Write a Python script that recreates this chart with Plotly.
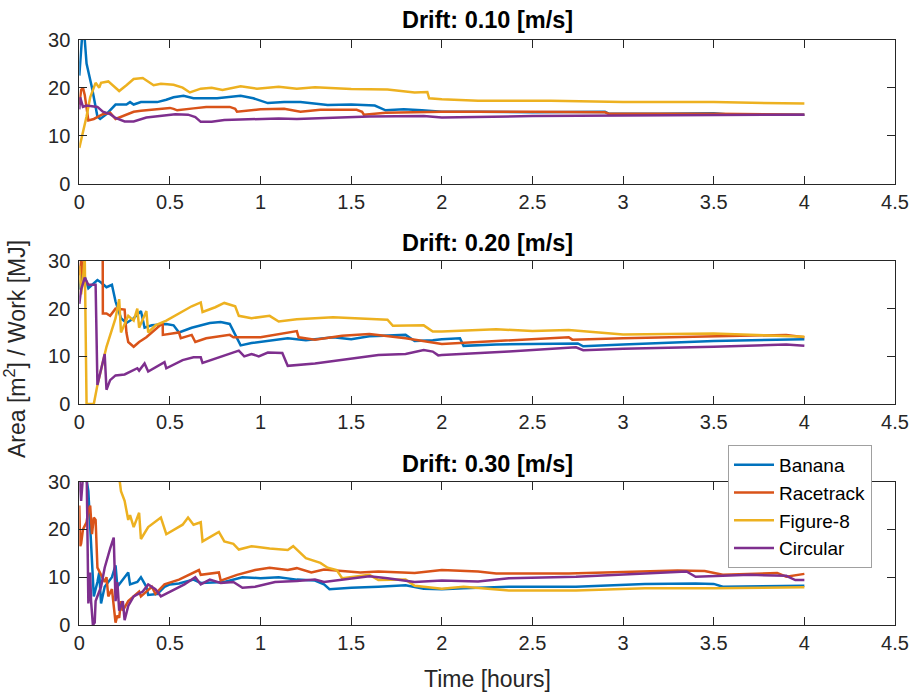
import plotly.graph_objects as go

# ---------------- data ----------------
series_names = ["Banana", "Racetrack", "Figure-8", "Circular"]
series_colors = ["#0072BD", "#D95319", "#EDB120", "#7E2F8E"]
titles = ["Drift: 0.10 [m/s]", "Drift: 0.20 [m/s]", "Drift: 0.30 [m/s]"]
x_ticks = [0, 0.5, 1, 1.5, 2, 2.5, 3, 3.5, 4, 4.5]
x_tick_labels = ["0", "0.5", "1", "1.5", "2", "2.5", "3", "3.5", "4", "4.5"]
y_ticks = [0, 10, 20, 30]

# Drift 0.10
t1_banana = [0, 0.01, 0.02, 0.03, 0.04, 0.07, 0.10, 0.115, 0.15, 0.20, 0.26, 0.28, 0.30, 0.34, 0.39, 0.43, 0.48, 0.52, 0.575, 0.63, 0.70, 0.76, 0.89, 0.96, 1.04, 1.13, 1.22, 1.37, 1.50, 1.63, 1.69, 1.79, 1.89, 2.0, 2.2, 2.5, 2.9, 2.92, 3.2, 3.5, 3.6, 4.0]
v1_banana = [22.5, 28, 33, 30, 25, 20, 14, 13.5, 14.5, 16.5, 16.5, 17, 16.5, 17, 17, 17, 17.5, 18, 18.3, 17.8, 17.8, 17.8, 18.3, 17.8, 16.8, 17, 17, 16.4, 16.5, 16.3, 15.3, 15.5, 15.3, 15.0, 15.0, 14.9, 15.0, 14.6, 14.6, 14.7, 14.4, 14.4]
t1_race = [0, 0.01, 0.02, 0.03, 0.05, 0.08, 0.13, 0.17, 0.20, 0.22, 0.26, 0.30, 0.34, 0.41, 0.50, 0.52, 0.54, 0.63, 0.70, 0.83, 0.86, 0.87, 1.00, 1.13, 1.20, 1.22, 1.33, 1.53, 1.56, 1.57, 1.69, 2.0, 2.5, 2.9, 2.92, 3.5, 4.0]
v1_race = [16.5, 19.5, 20, 18.5, 13.2, 13.5, 14.5, 14.8, 13.5, 13.8, 14.5, 15.0, 15.2, 15.5, 15.8, 15.6, 15.3, 15.7, 16.0, 16.0, 15.6, 15.0, 15.5, 15.6, 15.2, 15.0, 15.4, 15.4, 15.0, 14.4, 14.8, 15.0, 15.0, 14.9, 14.6, 14.6, 14.4]
t1_fig8 = [0, 0.02, 0.04, 0.06, 0.09, 0.11, 0.12, 0.16, 0.20, 0.22, 0.26, 0.30, 0.35, 0.41, 0.45, 0.52, 0.57, 0.61, 0.67, 0.73, 0.79, 0.89, 0.98, 1.10, 1.20, 1.30, 1.50, 1.70, 1.85, 1.92, 1.93, 2.0, 2.2, 2.6, 3.0, 3.5, 4.0]
v1_fig8 = [7.5, 10.5, 14, 18, 21, 20, 21, 21.3, 20, 19.3, 20.5, 21.8, 22, 20.5, 20.8, 20.6, 20, 19, 19.8, 20, 19.5, 20.3, 19.8, 20.2, 19.8, 20.1, 19.7, 19.6, 19.0, 19.1, 17.8, 17.6, 17.3, 17.3, 17.0, 17.0, 16.7]
t1_circ = [0, 0.005, 0.02, 0.04, 0.10, 0.13, 0.17, 0.20, 0.25, 0.30, 0.37, 0.45, 0.53, 0.60, 0.64, 0.67, 0.73, 0.80, 0.95, 1.10, 1.20, 1.40, 1.60, 1.90, 1.98, 2.0, 2.5, 3.0, 3.5, 4.0]
v1_circ = [15.5, 18, 16, 16.3, 16, 15, 14.5, 13.7, 13.0, 13.0, 13.8, 14.2, 14.5, 14.4, 13.9, 12.9, 12.9, 13.3, 13.5, 13.6, 13.5, 13.8, 14.0, 14.1, 13.8, 13.8, 14.1, 14.2, 14.3, 14.4]

# Drift 0.20
t2_banana = [0, 0.02, 0.05, 0.10, 0.12, 0.15, 0.18, 0.20, 0.23, 0.26, 0.30, 0.34, 0.36, 0.40, 0.48, 0.52, 0.55, 0.62, 0.72, 0.78, 0.83, 0.87, 0.89, 0.95, 1.05, 1.15, 1.25, 1.40, 1.50, 1.60, 1.80, 1.85, 1.95, 2.0, 2.1, 2.12, 2.3, 2.75, 2.78, 3.0, 3.5, 4.0]
v2_banana = [24, 28, 24.3, 26, 25.5, 24.5, 25, 21.5, 18, 17, 18, 19.5, 16, 16.5, 16.8, 16.5, 15, 16, 17, 17.2, 16.8, 14, 12.3, 12.8, 13.3, 13.8, 13.4, 14.0, 13.6, 14.2, 14.5, 13.2, 13.4, 13.6, 13.8, 12.2, 12.5, 12.7, 12.1, 12.5, 13.2, 13.6]
t2_race = [0, 0.01, 0.02, 0.03, 0.129, 0.13, 0.15, 0.17, 0.20, 0.25, 0.26, 0.27, 0.30, 0.33, 0.37, 0.40, 0.45, 0.46, 0.461, 0.55, 0.56, 0.62, 0.64, 0.70, 0.83, 0.85, 1.0, 1.2, 1.21, 1.30, 1.45, 1.60, 1.80, 1.95, 2.0, 2.7, 2.72, 3.0, 3.5, 3.9, 4.0]
v2_race = [27, 30, 26, 34, 34, 19, 19, 18.5, 20, 19.8, 15, 13, 12, 13, 14, 15, 16.5, 17, 14.5, 15, 13.8, 14.5, 13, 13.8, 14.5, 14.0, 14.0, 15.3, 14.0, 13.5, 14.3, 14.7, 13.8, 12.8, 12.6, 14.0, 13.5, 13.8, 14.2, 14.5, 14.0]
t2_fig8 = [0, 0.01, 0.02, 0.03, 0.04, 0.08, 0.10, 0.15, 0.20, 0.22, 0.23, 0.27, 0.30, 0.32, 0.33, 0.37, 0.38, 0.42, 0.48, 0.55, 0.62, 0.67, 0.68, 0.75, 0.80, 0.86, 0.88, 0.95, 1.05, 1.10, 1.20, 1.40, 1.55, 1.70, 1.73, 1.90, 1.95, 2.0, 2.3, 2.5, 2.7, 3.0, 3.5, 4.0]
v2_fig8 = [29, 23, 26, 31, 0, 0, 4, 12, 18, 22, 15, 18.5, 17.5, 20, 16, 19.5, 15, 16.5, 17.5, 19, 20.5, 21.3, 19.3, 20.3, 21.2, 20.5, 18.5, 18, 18.5, 17.3, 17.8, 18.2, 17.9, 17.7, 16.4, 16.5, 15.2, 15.2, 15.7, 15.3, 15.5, 14.6, 14.8, 14.1]
t2_circ = [0, 0.01, 0.03, 0.05, 0.09, 0.10, 0.14, 0.15, 0.17, 0.20, 0.25, 0.32, 0.33, 0.36, 0.38, 0.47, 0.48, 0.57, 0.63, 0.67, 0.68, 0.82, 0.88, 0.91, 0.95, 0.99, 1.04, 1.12, 1.15, 1.30, 1.50, 1.65, 1.80, 1.90, 1.95, 1.98, 2.0, 2.37, 2.74, 2.78, 3.0, 3.5, 3.9, 4.0]
v2_circ = [21, 24, 26.5, 25, 25, 4, 10.5, 3, 5, 6, 6.2, 7.5, 7, 8.5, 6.8, 8.8, 7.5, 9.2, 9.8, 9.8, 8.6, 10.5, 11.2, 10.0, 10.5, 10.0, 10.8, 10.7, 8.0, 8.5, 9.5, 10.3, 10.5, 11.3, 11.0, 10.2, 10.3, 11.0, 11.9, 11.3, 11.6, 12.0, 12.5, 12.2]

# Drift 0.30
t3_banana = [0, 0.03, 0.05, 0.08, 0.10, 0.11, 0.12, 0.14, 0.18, 0.20, 0.21, 0.24, 0.27, 0.28, 0.32, 0.34, 0.37, 0.38, 0.43, 0.47, 0.50, 0.55, 0.63, 0.67, 0.80, 0.90, 1.00, 1.10, 1.20, 1.30, 1.35, 1.38, 1.50, 1.65, 1.80, 1.90, 2.0, 2.12, 2.37, 2.74, 3.12, 3.4, 3.5, 3.55, 4.0]
v3_banana = [31, 33, 28, 6, 9, 11, 4.5, 8, 10, 12.5, 8, 9.5, 11, 8.5, 9, 10, 8, 6.3, 6.5, 8, 8.5, 8.7, 9.5, 8.8, 9.0, 10.0, 9.8, 10.0, 9.5, 9.3, 8.5, 7.5, 7.8, 8.0, 8.3, 7.6, 7.5, 7.7, 8.0, 8.0, 8.6, 8.7, 8.6, 8.0, 8.2]
t3_race = [0, 0.005, 0.01, 0.02, 0.04, 0.05, 0.06, 0.07, 0.08, 0.09, 0.10, 0.12, 0.14, 0.15, 0.16, 0.18, 0.20, 0.21, 0.22, 0.23, 0.24, 0.27, 0.33, 0.34, 0.40, 0.42, 0.47, 0.55, 0.66, 0.67, 0.77, 0.78, 0.87, 0.97, 1.05, 1.15, 1.20, 1.28, 1.35, 1.45, 1.55, 1.65, 1.85, 2.0, 2.2, 2.3, 2.7, 3.0, 3.3, 3.45, 3.55, 3.85, 3.9, 4.0]
v3_race = [25, 16.5, 17, 20, 21.5, 24, 25, 19, 22.5, 22, 12, 10.5, 9, 10, 6, 7.5, 0.5, 2, 1.5, 5, 3, 5, 7, 6, 8, 6.5, 8.5, 9.5, 11.5, 10.5, 11, 9.3, 10.5, 11.5, 12, 11.5, 11.9, 11.0, 11.6, 11.3, 11.0, 11.2, 10.9, 11.5, 11.2, 10.8, 10.8, 11.1, 11.4, 11.3, 10.5, 10.9, 10.1, 10.7]
t3_fig8 = [0, 0.1, 0.22, 0.23, 0.25, 0.27, 0.28, 0.30, 0.33, 0.34, 0.38, 0.45, 0.48, 0.57, 0.60, 0.63, 0.67, 0.68, 0.77, 0.80, 0.85, 0.88, 0.95, 1.05, 1.15, 1.18, 1.25, 1.33, 1.37, 1.42, 1.45, 1.55, 1.60, 1.65, 1.80, 1.85, 1.95, 2.0, 2.12, 2.37, 2.74, 3.12, 3.5, 4.0]
v3_fig8 = [45, 38, 31, 28, 26, 22, 23, 20.5, 23.5, 18, 20.5, 22.5, 19, 21, 22.5, 21, 21.5, 17.5, 19.5, 17.5, 17, 15.8, 16.5, 16.0, 15.7, 16.5, 14, 13, 12, 11.5, 9.8, 10.2, 10.5, 9.4, 9.5, 8.2, 7.8, 7.6, 8.0, 7.2, 7.2, 7.7, 7.7, 7.9]
t3_circ = [0, 0.01, 0.02, 0.04, 0.05, 0.06, 0.065, 0.075, 0.085, 0.09, 0.12, 0.14, 0.17, 0.19, 0.20, 0.21, 0.22, 0.24, 0.25, 0.27, 0.30, 0.35, 0.38, 0.42, 0.45, 0.50, 0.58, 0.64, 0.67, 0.72, 0.78, 0.85, 0.90, 0.97, 1.08, 1.20, 1.30, 1.35, 1.50, 1.60, 1.70, 1.85, 2.0, 2.2, 2.37, 2.74, 3.12, 3.35, 3.4, 3.7, 3.9, 3.95, 4.0]
v3_circ = [31, 26, 31, 34, 4.5, 11, 5, 0, 0.5, 5, 8, 12, 16, 18.3, 5, 9, 3, 5, 1, 4, 6, 7, 8.5, 7.5, 6, 7, 8.5, 10, 8.5, 9.5, 8.8, 9.0, 7.8, 8.0, 9.0, 9.2, 9.5, 9.0, 9.7, 10.2, 9.8, 9.0, 9.3, 9.1, 9.8, 10.1, 10.8, 11.2, 10.1, 10.5, 10.3, 9.4, 9.4]

panels = [
    [(t1_banana, v1_banana), (t1_race, v1_race), (t1_fig8, v1_fig8), (t1_circ, v1_circ)],
    [(t2_banana, v2_banana), (t2_race, v2_race), (t2_fig8, v2_fig8), (t2_circ, v2_circ)],
    [(t3_banana, v3_banana), (t3_race, v3_race), (t3_fig8, v3_fig8), (t3_circ, v3_circ)],
]

# ---------------- figure ----------------
W, H = 911, 695
FONT = "Liberation Sans, Arial, Helvetica, sans-serif"
AX = "#262626"

x_dom = [79.3 / W, 895 / W]
y_doms = [
    [1 - 184 / H, 1 - 39.5 / H],
    [1 - 404 / H, 1 - 261 / H],
    [1 - 625 / H, 1 - 481.7 / H],
]
title_y = [1 - 20 / H, 1 - 243 / H, 1 - 463.5 / H]

fig = go.Figure()
for p, panel in enumerate(panels):
    xa = "x" if p == 0 else f"x{p+1}"
    ya = "y" if p == 0 else f"y{p+1}"
    for s, (tt, vv) in enumerate(panel):
        fig.add_trace(go.Scatter(
            x=tt, y=vv, mode="lines", name=series_names[s],
            line=dict(color=series_colors[s], width=2.5),
            xaxis=xa, yaxis=ya, showlegend=(p == 2),
        ))

layout = dict(
    width=W, height=H, autosize=False,
    margin=dict(l=0, r=0, t=0, b=0, pad=0, autoexpand=False),
    paper_bgcolor="white", plot_bgcolor="white",
    font=dict(family=FONT, size=20, color=AX),
    showlegend=True,
    legend=dict(
        x=728 / W, y=1 - 445 / H, xanchor="left", yanchor="top",
        bgcolor="white", bordercolor="#A0A0A0", borderwidth=1,
        font=dict(family=FONT, size=19, color="black"),
        tracegroupgap=0, itemwidth=40,
    ),
)
annotations = []
for p in range(3):
    sx = "" if p == 0 else str(p + 1)
    layout[f"xaxis{sx}"] = dict(
        domain=x_dom, anchor=f"y{sx}", range=[0, 4.5], automargin=False,
        tickvals=x_ticks, ticktext=x_tick_labels,
        ticks="inside", ticklen=8, tickcolor=AX, tickwidth=1,
        showline=True, linecolor=AX, linewidth=1, mirror="ticks",
        showgrid=False, zeroline=False,
        tickfont=dict(family=FONT, size=20, color=AX),
    )
    layout[f"yaxis{sx}"] = dict(
        domain=y_doms[p], anchor=f"x{sx}", range=[0, 30], automargin=False,
        tickvals=y_ticks, ticklabelstandoff=4,
        ticks="inside", ticklen=8, tickcolor=AX, tickwidth=1,
        showline=True, linecolor=AX, linewidth=1, mirror="ticks",
        showgrid=False, zeroline=False,
        tickfont=dict(family=FONT, size=20, color=AX),
    )
    annotations.append(dict(
        text="<b>" + titles[p] + "</b>", xref="paper", yref="paper",
        x=(x_dom[0] + x_dom[1]) / 2, y=title_y[p], xanchor="center", yanchor="middle",
        showarrow=False, font=dict(family=FONT, size=23.5, color="black"),
    ))

annotations.append(dict(
    text="Time [hours]", xref="paper", yref="paper",
    x=(x_dom[0] + x_dom[1]) / 2, y=1 - 679 / H, xanchor="center", yanchor="middle",
    showarrow=False, font=dict(family=FONT, size=23, color=AX),
))
annotations.append(dict(
    text="Area [m<sup>2</sup>] / Work [MJ]", xref="paper", yref="paper",
    x=15 / W, y=1 - 349 / H, xanchor="center", yanchor="middle", textangle=-90,
    showarrow=False, font=dict(family=FONT, size=23, color=AX),
))
layout["annotations"] = annotations
fig.update_layout(**layout)

fig.write_html("out.html")
